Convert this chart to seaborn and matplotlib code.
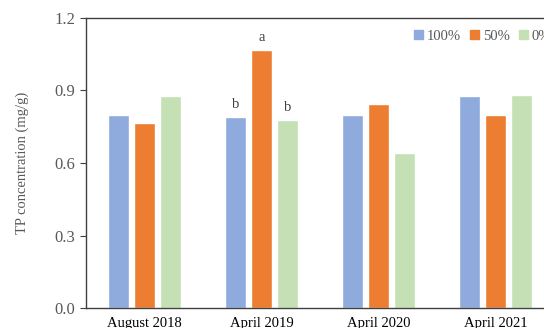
import pandas as pd
import seaborn as sns
import matplotlib.pyplot as plt

periods = ["August 2018", "April 2019", "April 2020", "April 2021"]
treatments = ["100%", "50%", "0%"]
tp_100 = [0.80, 0.79, 0.80, 0.877]
tp_50 = [0.765, 1.067, 0.845, 0.80]
tp_0 = [0.877, 0.778, 0.642, 0.88]
letters_2019 = ["b", "a", "b"]

df = pd.DataFrame({
    "period": periods * 3,
    "treatment": [t for t in treatments for _ in periods],
    "tp": tp_100 + tp_50 + tp_0,
})

sns.set_style("white")
plt.rcParams['font.family'] = ['Liberation Serif', 'DejaVu Serif']
grey = "#595959"
colors = ["#8FAADC", "#ED7D31", "#C5E0B4"]

fig = plt.figure(figsize=(5.44, 3.28), dpi=100)
ax = fig.add_axes([86/544, 20/328, 468/544, 290/328])

sns.barplot(data=df, x="period", y="tp", hue="treatment", order=periods,
            hue_order=treatments, palette=colors, width=0.66, gap=0.2,
            saturation=1, ax=ax, legend=False)

# significance letters for April 2019
for i, (c, lab) in enumerate(zip(ax.containers, letters_2019)):
    bar = c.patches[1]
    ax.text(bar.get_x() + bar.get_width()/2, bar.get_height() + 0.025, lab,
            ha="center", va="bottom", fontsize=10.5, color="#404040")

ax.set_ylim(0, 1.2)
ax.set_xlim(-0.5, 3.5)
ax.set_yticks([0.0, 0.3, 0.6, 0.9, 1.2])
ax.set_yticklabels(["0.0", "0.3", "0.6", "0.9", "1.2"])
ax.set_xlabel("")
ax.set_ylabel("TP concentration (mg/g)", fontsize=10.5, color=grey, labelpad=18)
ax.tick_params(axis="y", left=True, length=4, width=0.8, color="#404040",
               labelsize=12, labelcolor=grey, pad=4)
ax.tick_params(axis="x", bottom=False, labelsize=10.5, labelcolor="black", pad=3)
for s in ["left", "bottom", "top"]:
    ax.spines[s].set_color("#404040")
    ax.spines[s].set_linewidth(1.0)
ax.spines["right"].set_visible(False)

handles = [plt.Rectangle((0, 0), 1, 1, color=c) for c in colors]
fig.legend(handles, treatments, loc="upper left", bbox_to_anchor=(414/544, 1 - 30/328),
           ncol=3, frameon=False, handlelength=0.6, handleheight=0.6,
           handletextpad=0.3, columnspacing=0.6, borderaxespad=0, borderpad=0,
           prop={"size": 10.5}, labelcolor=grey)

fig.savefig("out.png", dpi=100)
